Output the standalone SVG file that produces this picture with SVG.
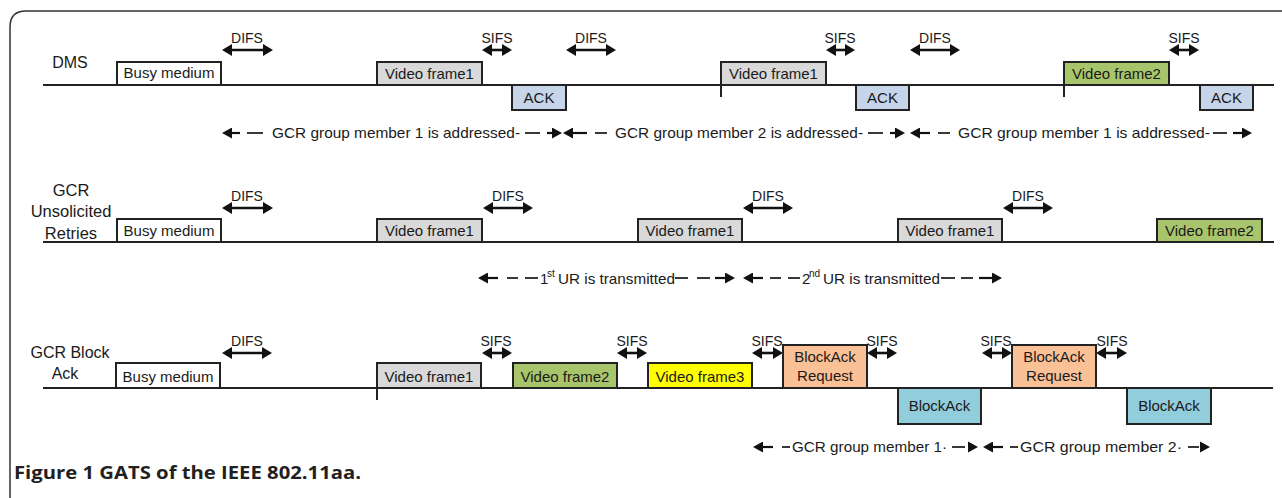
<svg xmlns="http://www.w3.org/2000/svg" width="1282" height="498" viewBox="0 0 1282 498">
<style>
.t{font-family:"Liberation Sans",Arial,sans-serif;font-size:15px;fill:#1a1a1a}
.c{text-anchor:middle}
.lb{font-family:"Liberation Sans",Arial,sans-serif;font-size:16px;fill:#1a1a1a;text-anchor:middle}
.sm{font-family:"Liberation Sans",Arial,sans-serif;font-size:14px;fill:#1a1a1a;text-anchor:middle}
.sup{font-family:"Liberation Sans",Arial,sans-serif;font-size:10px;fill:#1a1a1a}
.bx{stroke:#222;stroke-width:2}
.tl{stroke:#222;stroke-width:2.2;fill:none}
.ia{stroke:#111;stroke-width:2.6;marker-start:url(#ah);marker-end:url(#ah)}
.dl{stroke:#222;stroke-width:1.8}
.la{stroke:#111;stroke-width:2.2;marker-start:url(#sa)}
.ra{stroke:#111;stroke-width:2.2;marker-end:url(#sa)}
.gray{fill:#d9d9d9}.white{fill:#fff}.ack{fill:#c6d5ea}.green{fill:#a9c56b}.yel{fill:#ffff00}.peach{fill:#fac096}.cyan{fill:#92cddc}
</style>
<defs>
<marker id="ah" markerUnits="userSpaceOnUse" markerWidth="10" markerHeight="12" viewBox="0 0 10 12" refX="6" refY="6" orient="auto-start-reverse"><path d="M0,0 L10,6 L0,12 z" fill="#111"/></marker>
<marker id="sa" markerUnits="userSpaceOnUse" markerWidth="10" markerHeight="11" viewBox="0 0 10 11" refX="6" refY="5.5" orient="auto-start-reverse"><path d="M0,0 L10,5.5 L0,11 z" fill="#111"/></marker>
</defs>
<rect width="1282" height="498" fill="#fff"/>
<path d="M10,498 V27 Q10,11 26,11 H1282" fill="none" stroke="#333" stroke-width="1.5"/>

<!-- row labels -->
<g id="label-dms"><text class="lb" x="70" y="68">DMS</text></g>
<g id="label-gcr-ur"><text class="lb" x="71" y="196" style="font-size:16.5px">GCR</text><text class="lb" x="71" y="217" style="font-size:16.5px">Unsolicited</text><text class="lb" x="71" y="239" style="font-size:16.5px">Retries</text></g>
<g id="label-gcr-ba"><text class="lb" x="70" y="358">GCR Block</text><text class="lb" x="65" y="379">Ack</text></g>

<!-- timelines and connectors -->
<g id="connectors">
<line class="tl" x1="43" y1="85" x2="1274" y2="85"/>
<line class="tl" x1="43" y1="242" x2="1274" y2="242"/>
<line class="tl" x1="43" y1="388" x2="1273" y2="388"/>
<line class="bx" x1="721" y1="85" x2="721" y2="97"/>
<line class="bx" x1="1064" y1="85" x2="1064" y2="97"/>
<line class="bx" x1="377" y1="388" x2="377" y2="400"/>
<!-- row1 interval arrows -->
<line class="ia" x1="226" y1="50" x2="269" y2="50"/>
<line class="ia" x1="486" y1="50" x2="508" y2="50"/>
<line class="ia" x1="570" y1="50" x2="612" y2="50"/>
<line class="ia" x1="830" y1="50" x2="851" y2="50"/>
<line class="ia" x1="914" y1="50" x2="956" y2="50"/>
<line class="ia" x1="1173" y1="50" x2="1195" y2="50"/>
<!-- row2 -->
<line class="ia" x1="226" y1="208" x2="269" y2="208"/>
<line class="ia" x1="487" y1="208" x2="529" y2="208"/>
<line class="ia" x1="747" y1="208" x2="789" y2="208"/>
<line class="ia" x1="1007" y1="208" x2="1049" y2="208"/>
<!-- row3 -->
<line class="ia" x1="226" y1="353" x2="268" y2="353"/>
<line class="ia" x1="486" y1="353" x2="508" y2="353"/>
<line class="ia" x1="621" y1="353" x2="643" y2="353"/>
<line class="ia" x1="756" y1="353" x2="779" y2="353"/>
<line class="ia" x1="871" y1="353" x2="893" y2="353"/>
<line class="ia" x1="986" y1="353" x2="1008" y2="353"/>
<line class="ia" x1="1100" y1="353" x2="1123" y2="353"/>
<!-- row1 dashed span arrows -->
<line class="la" x1="226" y1="133" x2="240" y2="133"/><line class="dl" x1="247" y1="133" x2="263" y2="133"/>
<line class="dl" x1="525" y1="133" x2="540" y2="133"/><line class="ra" x1="547" y1="133" x2="558" y2="133"/>
<line class="la" x1="567" y1="133" x2="587" y2="133"/><line class="dl" x1="595" y1="133" x2="607" y2="133"/>
<line class="dl" x1="868" y1="133" x2="883" y2="133"/><line class="ra" x1="890" y1="133" x2="901" y2="133"/>
<line class="la" x1="914" y1="133" x2="930" y2="133"/><line class="dl" x1="938" y1="133" x2="950" y2="133"/>
<line class="dl" x1="1213" y1="133" x2="1227" y2="133"/><line class="ra" x1="1233" y1="133" x2="1248" y2="133"/>
<!-- row2 dashed -->
<line class="la" x1="482" y1="278" x2="498" y2="278"/><line class="dl" x1="507" y1="278" x2="518" y2="278"/><line class="dl" x1="525" y1="278" x2="538" y2="278"/>
<line class="dl" x1="675" y1="278" x2="688" y2="278"/><line class="dl" x1="697" y1="278" x2="710" y2="278"/><line class="ra" x1="715" y1="278" x2="731" y2="278"/>
<line class="la" x1="747" y1="278" x2="763" y2="278"/><line class="dl" x1="770" y1="278" x2="781" y2="278"/><line class="dl" x1="788" y1="278" x2="800" y2="278"/>
<line class="dl" x1="941" y1="278" x2="955" y2="278"/><line class="dl" x1="961" y1="278" x2="973" y2="278"/><line class="ra" x1="979" y1="278" x2="998" y2="278"/>
<!-- row3 dashed -->
<line class="la" x1="757" y1="447" x2="773" y2="447"/><line class="dl" x1="782" y1="447" x2="790" y2="447"/>
<line class="dl" x1="952" y1="447" x2="965" y2="447"/><path d="M968,441.5 L978,447 L968,452.5 z" fill="#111"/>
<line class="la" x1="987" y1="447" x2="1003" y2="447"/><line class="dl" x1="1010" y1="447" x2="1018" y2="447"/>
<line class="dl" x1="1188" y1="447" x2="1199" y2="447"/><path d="M1200,441.5 L1210,447 L1200,452.5 z" fill="#111"/>
</g>

<!-- interval labels -->
<g id="interval-labels">
<text class="sm" x="247" y="43">DIFS</text><text class="sm" x="497" y="43">SIFS</text><text class="sm" x="591" y="43">DIFS</text>
<text class="sm" x="840" y="43">SIFS</text><text class="sm" x="935" y="43">DIFS</text><text class="sm" x="1184" y="43">SIFS</text>
<text class="sm" x="247" y="201">DIFS</text><text class="sm" x="508" y="201">DIFS</text><text class="sm" x="768" y="201">DIFS</text><text class="sm" x="1028" y="201">DIFS</text>
<text class="sm" x="247" y="346">DIFS</text><text class="sm" x="496" y="346">SIFS</text><text class="sm" x="632" y="346">SIFS</text><text class="sm" x="767" y="346">SIFS</text>
<text class="sm" x="882" y="346">SIFS</text><text class="sm" x="996" y="346">SIFS</text><text class="sm" x="1112" y="346">SIFS</text>
</g>

<!-- span labels -->
<g id="span-labels">
<text class="t" x="272" y="138" textLength="248" lengthAdjust="spacingAndGlyphs">GCR group member 1 is addressed-</text>
<text class="t" x="615" y="138" textLength="248" lengthAdjust="spacingAndGlyphs">GCR group member 2 is addressed-</text>
<text class="t" x="958" y="138" textLength="252" lengthAdjust="spacingAndGlyphs">GCR group member 1 is addressed-</text>
<text class="t" x="540" y="284">1</text><text class="sup" x="547" y="277">st</text><text class="t" x="558" y="284" textLength="117" lengthAdjust="spacingAndGlyphs">UR is transmitted</text>
<text class="t" x="802" y="284">2</text><text class="sup" x="809" y="277">nd</text><text class="t" x="823" y="284" textLength="117" lengthAdjust="spacingAndGlyphs">UR is transmitted</text>
<text class="t" x="792" y="452" textLength="155" lengthAdjust="spacingAndGlyphs">GCR group member 1·</text>
<text class="t" x="1020" y="452" textLength="162" lengthAdjust="spacingAndGlyphs">GCR group member 2·</text>
</g>

<!-- DMS row -->
<g id="dms-busy"><rect class="bx white" x="117" y="62" width="104" height="23"/><text class="t c" x="169" y="78">Busy medium</text></g>
<g id="dms-vf1a"><rect class="bx gray" x="377" y="62" width="105" height="23"/><text class="t c" x="429.5" y="79">Video frame1</text></g>
<g id="dms-ack1"><rect class="bx ack" x="512" y="85" width="54" height="25"/><text class="t c" x="539" y="103">ACK</text></g>
<g id="dms-vf1b"><rect class="bx gray" x="721" y="62" width="105" height="23"/><text class="t c" x="773.5" y="79">Video frame1</text></g>
<g id="dms-ack2"><rect class="bx ack" x="856" y="85" width="53" height="25"/><text class="t c" x="882.5" y="103">ACK</text></g>
<g id="dms-vf2"><rect class="bx green" x="1064" y="62" width="105" height="23"/><text class="t c" x="1116.5" y="79">Video frame2</text></g>
<g id="dms-ack3"><rect class="bx ack" x="1200" y="85" width="53" height="25"/><text class="t c" x="1226.5" y="103">ACK</text></g>

<!-- GCR UR row -->
<g id="ur-busy"><rect class="bx white" x="117" y="219" width="104" height="23"/><text class="t c" x="169" y="236">Busy medium</text></g>
<g id="ur-vf1a"><rect class="bx gray" x="377" y="219" width="105" height="23"/><text class="t c" x="429.5" y="236">Video frame1</text></g>
<g id="ur-vf1b"><rect class="bx gray" x="638" y="219" width="104" height="23"/><text class="t c" x="690" y="236">Video frame1</text></g>
<g id="ur-vf1c"><rect class="bx gray" x="898" y="219" width="104" height="23"/><text class="t c" x="950" y="236">Video frame1</text></g>
<g id="ur-vf2"><rect class="bx green" x="1157" y="219" width="105" height="23"/><text class="t c" x="1209.5" y="236">Video frame2</text></g>

<!-- GCR Block Ack row -->
<g id="ba-busy"><rect class="bx white" x="116" y="363" width="104" height="25"/><text class="t c" x="168" y="382">Busy medium</text></g>
<g id="ba-vf1"><rect class="bx gray" x="377" y="363" width="104" height="25"/><text class="t c" x="429" y="382">Video frame1</text></g>
<g id="ba-vf2"><rect class="bx green" x="513" y="363" width="104" height="25"/><text class="t c" x="565" y="382">Video frame2</text></g>
<g id="ba-vf3"><rect class="bx yel" x="648" y="363" width="104" height="25"/><text class="t c" x="700" y="382">Video frame3</text></g>
<g id="ba-bar1"><rect class="bx peach" x="783" y="345" width="84" height="43"/><text class="t c" x="825" y="362">BlockAck</text><text class="t c" x="825" y="381">Request</text></g>
<g id="ba-ba1"><rect class="bx cyan" x="898" y="388" width="83" height="36"/><text class="t c" x="939.5" y="411">BlockAck</text></g>
<g id="ba-bar2"><rect class="bx peach" x="1012" y="345" width="84" height="43"/><text class="t c" x="1054" y="362">BlockAck</text><text class="t c" x="1054" y="381">Request</text></g>
<g id="ba-ba2"><rect class="bx cyan" x="1127" y="388" width="84" height="36"/><text class="t c" x="1169" y="411">BlockAck</text></g>

<g id="caption"><text x="14" y="479" textLength="347" lengthAdjust="spacingAndGlyphs" style="font-family:'Open Sans','Liberation Sans',sans-serif;font-weight:700;font-size:18px;fill:#231f20">Figure 1 GATS of the IEEE 802.11aa.</text></g>
</svg>
